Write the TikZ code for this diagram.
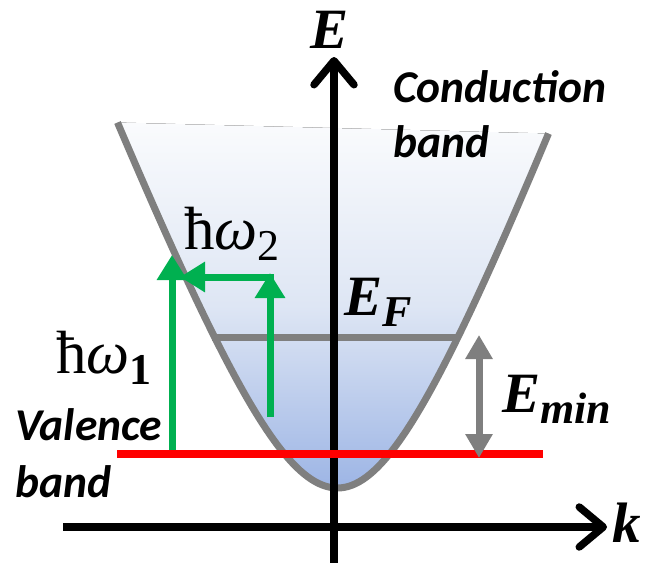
\documentclass[tikz,border=0pt]{standalone}
\usepackage{fontspec}
\newfontfamily\carlfont{Carlito}
\newfontfamily\mfont{Liberation Serif}
\newcommand\lowsub[1]{{\fontsize{44}{46}\selectfont\raisebox{-11pt}{#1}}}
\usetikzlibrary{arrows.meta}
\definecolor{bandgray}{HTML}{7F7F7F}
\definecolor{photon}{HTML}{00B050}
\definecolor{fillbot}{HTML}{9DB5E5}
\definecolor{fillmid}{HTML}{DEE6F4}
\definecolor{filltop}{HTML}{FAFBFD}
\begin{document}
\begin{tikzpicture}[x=1pt,y=-1pt,
  lbl/.style={inner sep=0pt,anchor=base west},
  mathlbl/.style={lbl,font=\mfont\fontsize{57}{62}\selectfont},
  hwlbl/.style={lbl,font=\mfont\fontsize{61}{66}\selectfont},
  bandtxt/.style={lbl,font=\carlfont\bfseries\itshape\fontsize{45.5}{54}\selectfont},
  axisline/.style={line width=7.5pt,black,-{Straight Barb[round,length=24pt,width=40pt]}},
  photonarrow/.style={line width=7pt,draw=photon,-{Triangle[length=25pt,width=29pt]}},
  gapline/.style={line width=7pt,draw=bandgray,{Triangle[length=24pt,width=26pt]}-{Triangle[length=24pt,width=26pt]}},
  bandline/.style={line width=7pt,draw=bandgray},
  fermi/.style={line width=7.5pt,draw=red}]
\useasboundingbox (0,0) rectangle (649,563);
% conduction band fill
\fill[top color=filltop,bottom color=fillbot,middle color=fillmid]
  plot[domain=-220:0,samples=60] ({337.5+\x},{488-258*(sqrt(1+(\x/100)^2)-1)})
  -- plot[domain=0:211,samples=60] ({337.5+\x},{488-258*(sqrt(1+(\x/98)^2)-1)})
  -- cycle;
% Fermi level line
\coordinate (efl) at (212,337);
\coordinate (efr) at (458,337);
\draw[bandline] (efl) -- (efr);
% band curve
\draw[bandline]
  plot[domain=-220:0,samples=60] ({337.5+\x},{488-258*(sqrt(1+(\x/100)^2)-1)})
  -- plot[domain=0:211,samples=60] ({337.5+\x},{488-258*(sqrt(1+(\x/98)^2)-1)});
% axes
\coordinate (vbot) at (334,563);
\coordinate (vtop) at (334,57);
\coordinate (hl) at (63,527);
\coordinate (hr) at (607,527);
\draw[axisline] (vbot) -- (vtop);
\draw[axisline] (hl) -- (hr);
% photon arrows
\coordinate (g1a) at (172,452);
\coordinate (g1b) at (172,255);
\coordinate (g2a) at (270,417);
\coordinate (g2b) at (270,273);
\coordinate (g3a) at (274,277);
\coordinate (g3b) at (180,277);
\draw[photonarrow] (g1a) -- (g1b);
\draw[photonarrow] (g2a) -- (g2b);
\draw[photonarrow] (g3a) -- (g3b);
% red level
\coordinate (rl) at (117,454);
\coordinate (rr) at (543,454);
\draw[fermi] (rl) -- (rr);
% Emin arrow
\coordinate (ga) at (479,335);
\coordinate (gb) at (479,458);
\draw[gapline] (ga) -- (gb);
% labels
\node[mathlbl,anchor=center] (Elab) at (330,30) {\bfseries\itshape E};
\node[mathlbl,anchor=center] (klab) at (627,523) {\bfseries\itshape k};
\node[mathlbl] (EFlab) at (344,315) {\bfseries\itshape E\lowsub{F}};
\node[mathlbl] (Eminlab) at (502,412) {\bfseries\itshape E\lowsub{min}};
\node[hwlbl] (w2lab) at (184,249) {ħ\textit{ω}\lowsub{2}};
\node[hwlbl] (w1lab) at (56,373) {ħ\textit{ω}\lowsub{\bfseries 1}};
\node[bandtxt] (cb1) at (393,102) {Conduction};
\node[bandtxt] (cb2) at (393,157) {band};
\node[bandtxt] (vb1) at (15,440) {Valence};
\node[bandtxt] (vb2) at (15,497) {band};
\end{tikzpicture}
\end{document}
